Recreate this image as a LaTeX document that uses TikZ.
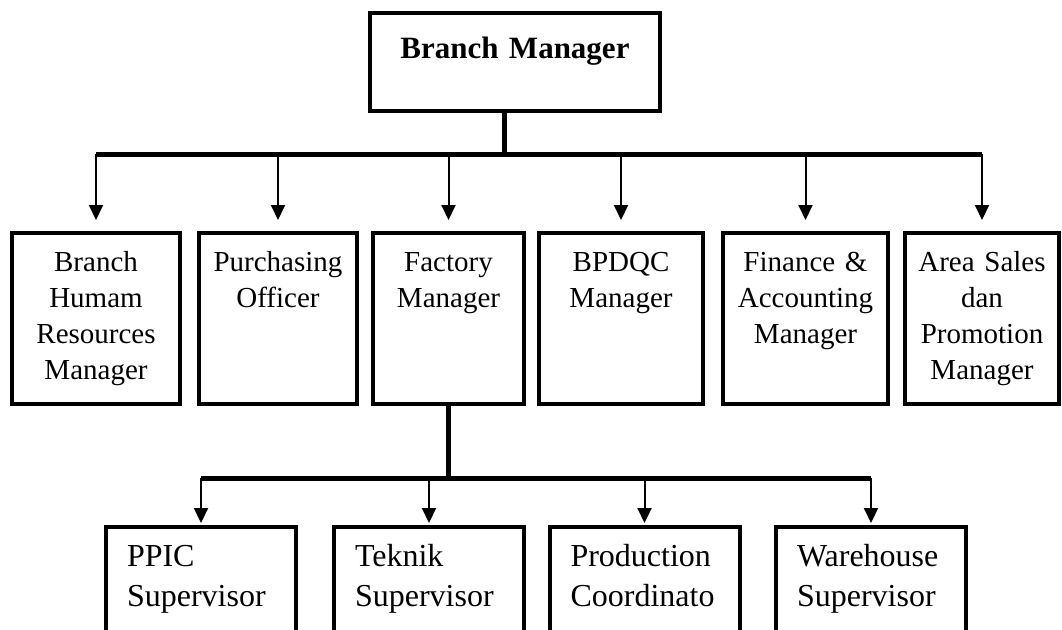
\documentclass[tikz,border=0pt]{standalone}
\usepackage{fontspec}
\setmainfont{Liberation Serif}
\usetikzlibrary{arrows.meta}
\tikzset{
  >={Triangle[length=15pt,width=14pt]},
  % styles
  box/.style={
    draw,
    line width=4pt,
    inner sep=0pt,
  },
  boss/.style={
    box,
    text width=290pt,
    align=center,
    text height=45pt,
    text depth=53pt,
    font=\fontsize{31}{38}\selectfont\bfseries,
  },
  staff/.style={
    box,
    text width=#1,
    align=center,
    text height=38pt,
    text depth=133pt,
    font=\fontsize{29}{36}\selectfont,
  },
  crew/.style={
    box,
    anchor=north,
    inner xsep=21pt,
    text width=148pt,
    align=left,
    text height=39pt,
    text depth=110pt,
    font=\fontsize{32}{40}\selectfont,
  },
  trunk/.style={line width=5pt},
  feed/.style={->, line width=2pt},
}

\begin{document}
\begin{tikzpicture}[x=1pt,y=-1pt]
  \useasboundingbox (0,0) rectangle (1062,629);
  \clip (0,0) rectangle (1062,629);

  % head
  \node [boss] (bm) at (515,62) {Branch Manager};

  % managers
  \node [staff=168pt] (hr) at (96,318.5)    {Branch\\Humam\\Resources\\Manager};
  \node [staff=158pt] (po) at (278,318.5)   {Purchasing\\Officer};
  \node [staff=151pt] (fm) at (448.5,318.5) {Factory\\Manager};
  \node [staff=164pt] (bq) at (621,318.5)   {BPDQC\\Manager};
  \node [staff=165pt] (fa) at (805.5,318.5) {Finance \&\\Accounting\\Manager};
  \node [staff=154pt] (as) at (982,318.5)   {Area Sales\\dan\\Promotion\\Manager};

  % supervisors
  \node [crew] (pp) at (201,525)   {PPIC\\Supervisor};
  \node [crew] (tk) at (429,525)   {Teknik\\Supervisor};
  \node [crew] (pc) at (644.5,525) {Production\\Coordinato};
  \node [crew] (wh) at (871,525)   {Warehouse\\Supervisor};

  % links
  \coordinate (top) at (504,154);
  \draw [trunk] (bm.south -| top) -- (top);
  \draw [trunk] (hr.north |- top) -- (as.north |- top);
  \foreach \n in {hr,po,fm,bq,fa,as}
    \draw [feed] (\n.north |- top) -- ([yshift=11pt]\n.north);

  \coordinate (sub) at (448.5,478);
  \draw [trunk] (fm.south) -- (sub);
  \draw [trunk] (pp.north |- sub) -- (wh.north |- sub);
  \foreach \n in {pp,tk,pc,wh}
    \draw [feed] (\n.north |- sub) -- ([yshift=2pt]\n.north);
\end{tikzpicture}
\end{document}
